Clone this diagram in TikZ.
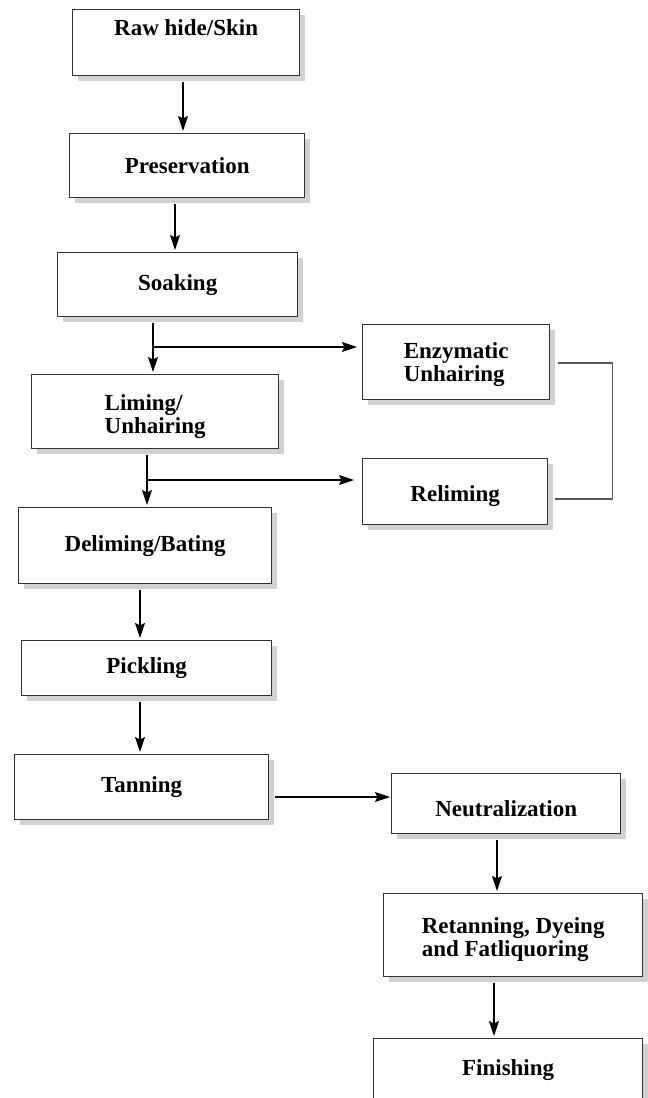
\documentclass[tikz,border=0pt]{standalone}
\usepackage{fontspec}
\setmainfont{Liberation Serif}
\usetikzlibrary{arrows.meta,shadows}
\begin{document}
\begin{tikzpicture}[x=1pt,y=-1pt,
  box/.style={draw=black!80, line width=1.3pt, fill=white, rectangle, inner sep=2pt,
    anchor=north west, font=\bfseries\fontsize{23}{22.5}\selectfont,
    drop shadow={shadow xshift=5pt, shadow yshift=-5pt, fill=black!18, opacity=1}},
  arr/.style={line width=1.5pt, -{Stealth[length=15pt,width=10pt,inset=2.5pt]},
    shorten <=6pt, shorten >=2pt},
  conn/.style={draw=black!65, line width=1.3pt}]
\clip (0,0) rectangle (648,1098);
\fill[white] (0,0) rectangle (648,1098);
% main column
\node[box, minimum width=227pt, minimum height=66pt, text height=15pt, text depth=29pt] (raw) at (72,9) {Raw hide/Skin};
\node[box, minimum width=235pt, minimum height=64pt] (pres) at (69,133) {Preservation};
\node[box, minimum width=240pt, minimum height=64pt] (soak) at (57,252) {Soaking};
\node[box, minimum width=247pt, minimum height=74pt, align=left] (lim) at (31,374) {\rule{0pt}{26pt}Liming/\\Unhairing};
\node[box, minimum width=253pt, minimum height=76pt] (delim) at (18,507) {Deliming/Bating};
\node[box, minimum width=250pt, minimum height=55pt] (pick) at (21,640) {Pickling};
\node[box, minimum width=254pt, minimum height=65pt] (tan) at (14,754) {Tanning};
% side boxes
\node[box, minimum width=187pt, minimum height=75pt, align=left] (enz) at (362,324) {\rule{0pt}{21pt}Enzymatic\\Unhairing};
\node[box, minimum width=185pt, minimum height=66pt, text height=22pt, text depth=2pt] (relim) at (362,458) {Reliming};
\node[box, minimum width=229pt, minimum height=60pt, text height=28pt, text depth=2pt] (neut) at (391,773) {Neutralization};
\node[box, minimum width=259pt, minimum height=83pt, align=left] (ret) at (383,893) {\rule{0pt}{25pt}Retanning, Dyeing\\and Fatliquoring};
\node[box, minimum width=269pt, minimum height=62pt] (fin) at (373,1038) {Finishing};
% arrow x positions
\path (183,0) coordinate (c1) (175,0) coordinate (c2) (153,0) coordinate (c3)
      (147,0) coordinate (c4) (140,0) coordinate (c5) (497,0) coordinate (c7)
      (494,0) coordinate (c8);
\draw[arr] (raw.south -| c1) -- (pres.north -| c1);
\draw[arr] (pres.south -| c2) -- (soak.north -| c2);
\draw[arr] (soak.south -| c3) -- (lim.north -| c3);
\draw[arr] (lim.south -| c4) -- (delim.north -| c4);
\draw[arr] (delim.south -| c5) -- (pick.north -| c5);
\draw[arr] (pick.south -| c5) -- (tan.north -| c5);
\draw[arr] (neut.south -| c7) -- (ret.north -| c7);
\draw[arr] (ret.south -| c8) -- (fin.north -| c8);
% branches
\coordinate (b1) at (153,347);
\draw[arr, shorten <=0pt, shorten >=5pt] (b1) -- (b1 -| enz.west);
\coordinate (b2) at (147,480);
\draw[arr, shorten <=0pt, shorten >=8pt] (b2) -- (b2 -| relim.west);
\coordinate (b3) at (274,797);
\draw[arr, shorten <=6pt, shorten >=1pt] (tan.east |- b3) -- (b3 -| neut.west);
% enzymatic - reliming connector
\coordinate (e2) at (612.5,363);
\coordinate (e3) at (612.5,499);
\draw[conn, shorten <=8pt, shorten >=7pt] (enz.east |- e2) -- (e2) -- (e3) -- (relim.east |- e3);
\end{tikzpicture}
\end{document}
